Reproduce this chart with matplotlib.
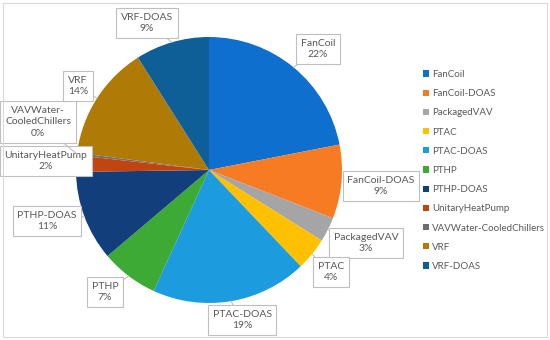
import numpy as np
import matplotlib.pyplot as plt
from matplotlib.patches import Rectangle

# datos del grafico
systems = ['FanCoil', 'FanCoil-DOAS', 'PackagedVAV', 'PTAC', 'PTAC-DOAS', 'PTHP',
           'PTHP-DOAS', 'UnitaryHeatPump', 'VAVWater-CooledChillers', 'VRF', 'VRF-DOAS']
shares = [22, 9, 3, 4, 19, 7, 11, 2, 0.3, 14, 9]
box_text = ['FanCoil', 'FanCoil-DOAS', 'PackagedVAV', 'PTAC', 'PTAC-DOAS', 'PTHP',
            'PTHP-DOAS', 'UnitaryHeatPump', 'VAVWater-\nCooledChillers', 'VRF', 'VRF-DOAS']
colors = ['#0F6FCE', '#F77B22', '#A5A5A5', '#FFC000', '#1C9BDF', '#3DAA35',
          '#123F7C', '#C2440E', '#6E6E6E', '#B07A06', '#0E5E98']

# posicion de las cajas de etiqueta (pixeles, origen arriba a la izquierda)
label_pos = [(318, 49), (381, 186), (366, 243), (331, 272), (242, 320), (105, 292),
             (47, 221), (46, 161), (38, 122), (78, 86), (147, 23)]

W, H = 550, 340
cx, cy, R = 209, 170, 133

fig = plt.figure(figsize=(5.5, 3.4), dpi=100)
ax = fig.add_axes([0, 0, 1, 1])

wedges, _ = ax.pie(shares, colors=colors, startangle=90, counterclock=False,
                   center=(cx, H - cy), radius=R, frame=True,
                   wedgeprops=dict(linewidth=0))
ax.set_xlim(0, W)
ax.set_ylim(0, H)
ax.set_aspect('equal')
ax.axis('off')

total = sum(shares)
for w, txt, v, (lx, ly) in zip(wedges, box_text, shares, label_pos):
    ang = np.deg2rad((w.theta1 + w.theta2) / 2)
    px = cx + R * np.cos(ang)
    py = (H - cy) + R * np.sin(ang)
    ax.annotate(f'{txt}\n{v / total * 100:.0f}%', xy=(px, py), xytext=(lx, H - ly),
                ha='center', va='center', fontsize=7.5, color='#595959',
                family='Lato', linespacing=1.35,
                bbox=dict(boxstyle='square,pad=0.45', fc='white', ec='#BFBFBF', lw=0.8),
                arrowprops=dict(arrowstyle='-', color='#BFBFBF', lw=0.8,
                                shrinkA=0, shrinkB=0))

leg = ax.legend(wedges, systems, loc='upper left', bbox_to_anchor=(419 / W, 1 - 66 / H),
                frameon=False, fontsize=7, handlelength=0.6, handleheight=0.6,
                handletextpad=0.35, labelspacing=1.05, borderaxespad=0)
for t in leg.get_texts():
    t.set_color('#595959')
    t.set_family('Lato')

fig.patches.append(Rectangle((3 / W, 3 / H), 1 - 6 / W, 1 - 6 / H, transform=fig.transFigure,
                             fill=False, ec='#D9D9D9', lw=0.8))

fig.savefig('out.png', dpi=100)
